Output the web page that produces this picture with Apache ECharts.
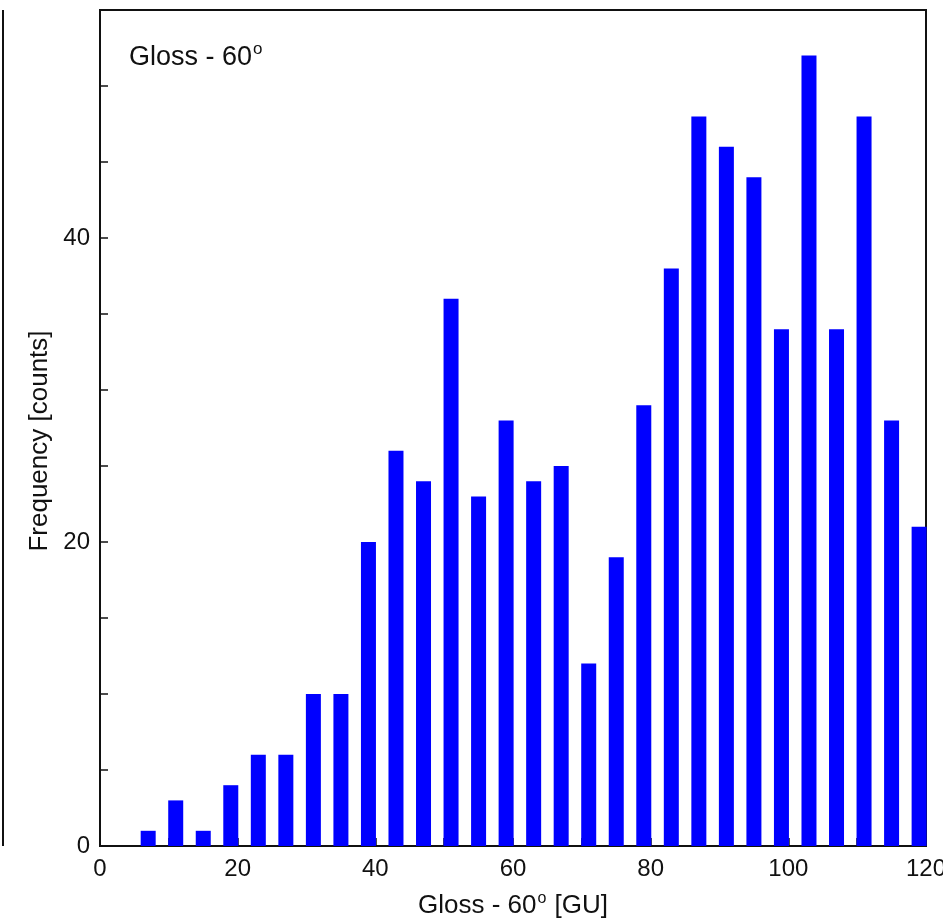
<!DOCTYPE html>
<html>
<head>
<meta charset="utf-8">
<script src="https://cdn.jsdelivr.net/npm/echarts@6/dist/echarts.min.js"></script>
<style>html,body{margin:0;padding:0;background:#fff}#c{width:943px;height:920px}</style>
</head>
<body>
<div id="c"></div>
<script>
const binCenters = [7,11,15,19,23,27,31,35,39,43,47,51,55,59,63,67,71,75,79,83,87,91,95,99,103,107,111,115,119];
const counts = [1,3,1,4,6,6,10,10,20,26,24,36,23,28,24,25,12,19,29,38,48,46,44,34,52,34,48,28,21];
const xTickLabels = [0,20,40,60,80,100,120];
const yTickLabels = [0,20,40];

const chart = echarts.init(document.getElementById('c'), null, {renderer:'canvas'});
const font = 'Liberation Sans, Arial, sans-serif';
chart.setOption({
  animation:false,
  backgroundColor:'#fff',
  textStyle:{fontFamily:font},
  grid:{left:100,right:17,top:10,bottom:74,show:true,borderColor:'#111',borderWidth:2,
    backgroundColor:'transparent',containLabel:false,outerBoundsMode:'none'},
  title:{
    text:'{m|Gloss - 60}{s|o}',
    left:124, top:36,
    textStyle:{fontWeight:'normal',rich:{
      m:{fontSize:27,fontFamily:font,color:'#111',fontWeight:'normal'},
      s:{fontSize:17,fontFamily:font,color:'#111',fontWeight:'normal',padding:[0,0,16,1]}
    }}
  },
  graphic:[{type:'line',shape:{x1:3,y1:10,x2:3,y2:846},style:{stroke:'#111',lineWidth:2}}],
  xAxis:{
    type:'value',min:0,max:120,interval:10,
    name:'{m|Gloss - 60}{s|o}{m| [GU]}',
    nameLocation:'middle',nameGap:45,
    nameTextStyle:{rich:{
      m:{fontSize:26,fontFamily:font,color:'#111'},
      s:{fontSize:16,fontFamily:font,color:'#111',padding:[0,1,14,1]}
    }},
    axisLine:{lineStyle:{color:'#111',width:2}},
    axisTick:{inside:true,length:8,lineStyle:{color:'#111',width:1.5}},
    axisLabel:{fontSize:24,color:'#111',margin:11,fontFamily:font,
      formatter:v=>xTickLabels.includes(v)?String(v):''},
    splitLine:{show:false}
  },
  yAxis:{
    type:'value',min:0,max:55,interval:5,
    name:'Frequency [counts]',
    nameLocation:'middle',nameGap:46,nameRotate:90,
    nameTextStyle:{fontSize:26,color:'#111',fontFamily:font,padding:[0,26,0,0]},
    axisLine:{lineStyle:{color:'#111',width:2}},
    axisTick:{inside:true,length:8,lineStyle:{color:'#111',width:1.5}},
    axisLabel:{fontSize:24,color:'#111',margin:10,fontFamily:font,
      formatter:v=>yTickLabels.includes(v)?String(v):''},
    splitLine:{show:false}
  },
  series:[{
    type:'bar',
    data:binCenters.map((x,i)=>[x,counts[i]]),
    barWidth:15,
    itemStyle:{color:'#0000ff'}
  }]
});
</script>
</body>
</html>
